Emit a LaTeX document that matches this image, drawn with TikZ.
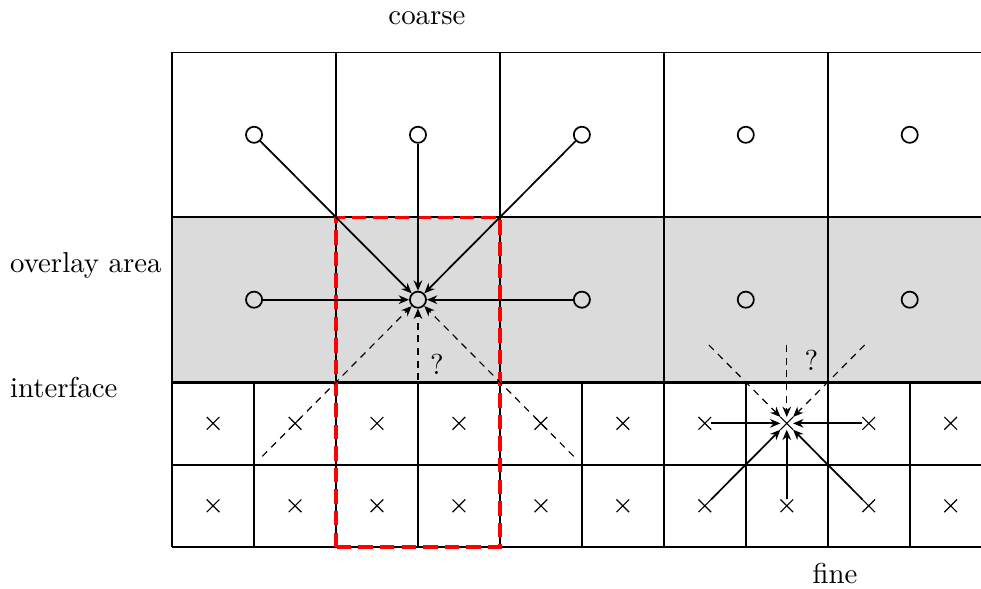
\documentclass[tikz,border=0pt]{standalone}
\usepackage{tikz}
\usetikzlibrary{arrows.meta, shapes.misc}

\begin{document}
\begin{tikzpicture}[
    y=1.006cm,
    coarsept/.style={circle, draw, semithick, minimum size=5.6pt, inner sep=0pt},
    finept/.style={cross out, draw, minimum size=4pt, inner sep=0pt},
    arrow/.style={-{Stealth[length=3.6pt, width=3pt]}, semithick},
    guess/.style={-{Stealth[length=3.6pt, width=3pt]}, dash pattern=on 2.4pt off 2pt},
    gridline/.style={semithick},
]
\useasboundingbox (-2.10,-0.509) rectangle (9.87,6.635);

% overlay row and grids
\fill[black!14] (0,2) rectangle (10,4);
\draw[gridline] (0,0) grid (10,2);
\draw[gridline] (0,2) grid[step=2] (10,6);
\draw[thick] (6,0) -- (6,6);
\draw[red, line width=1.1pt, dash pattern=on 5pt off 2.5pt] (2,0) rectangle (4,4);

% coarse points
\node[coarsept] (co1) at (1,5) {};
\node[coarsept] (co2) at (3,5) {};
\node[coarsept] (co3) at (5,5) {};
\node[coarsept] (co4) at (7,5) {};
\node[coarsept] (co5) at (9,5) {};
\node[coarsept] (ov1) at (1,3) {};
\node[coarsept] (ov2) at (3,3) {};
\node[coarsept] (ov3) at (5,3) {};
\node[coarsept] (ov4) at (7,3) {};
\node[coarsept] (ov5) at (9,3) {};

% fine points
\node[finept] (fa1) at (0.5,1.5) {};
\node[finept] (fa2) at (1.5,1.5) {};
\node[finept] (fa3) at (2.5,1.5) {};
\node[finept] (fa4) at (3.5,1.5) {};
\node[finept] (fa5) at (4.5,1.5) {};
\node[finept] (fa6) at (5.5,1.5) {};
\node[finept] (fa7) at (6.5,1.5) {};
\node[finept] (fa8) at (7.5,1.5) {};
\node[finept] (fa9) at (8.5,1.5) {};
\node[finept] (fa10) at (9.5,1.5) {};
\node[finept] (fb1) at (0.5,0.5) {};
\node[finept] (fb2) at (1.5,0.5) {};
\node[finept] (fb3) at (2.5,0.5) {};
\node[finept] (fb4) at (3.5,0.5) {};
\node[finept] (fb5) at (4.5,0.5) {};
\node[finept] (fb6) at (5.5,0.5) {};
\node[finept] (fb7) at (6.5,0.5) {};
\node[finept] (fb8) at (7.5,0.5) {};
\node[finept] (fb9) at (8.5,0.5) {};
\node[finept] (fb10) at (9.5,0.5) {};

% labels
\node (coarse) at (3.11,6.42) {coarse};
\node[anchor=west] (overlay) at (-2.10,3.42) {overlay area};
\node[anchor=west] (interface) at (-2.10,1.94) {interface};
\node (fine) at (8.09,-0.32) {fine};
\node (q1) at (3.23,2.21) {?};
\node (q2) at (7.80,2.27) {?};

% free ends of the dashed arrows
\coordinate (g1) at (1.1,1.1);
\coordinate (g2) at (3,1.1);
\coordinate (g3) at (4.9,1.1);
\coordinate (h1) at (6.55,2.45);
\coordinate (h2) at (7.5,2.45);
\coordinate (h3) at (8.45,2.45);

% coarse to fine
\draw[arrow] (co1) -- (ov2);
\draw[arrow] (co2) -- (ov2);
\draw[arrow] (co3) -- (ov2);
\draw[arrow] (ov1) -- (ov2);
\draw[arrow] (ov3) -- (ov2);
\draw[guess] (g1) -- (ov2);
\draw[guess] (g2) -- (ov2);
\draw[guess] (g3) -- (ov2);

% fine to coarse
\draw[arrow] (fa7) -- (fa8);
\draw[arrow] (fa9) -- (fa8);
\draw[arrow] (fb7) -- (fa8);
\draw[arrow] (fb8) -- (fa8);
\draw[arrow] (fb9) -- (fa8);
\draw[guess] (h1) -- (fa8);
\draw[guess] (h2) -- (fa8);
\draw[guess] (h3) -- (fa8);

\end{tikzpicture}
\end{document}
